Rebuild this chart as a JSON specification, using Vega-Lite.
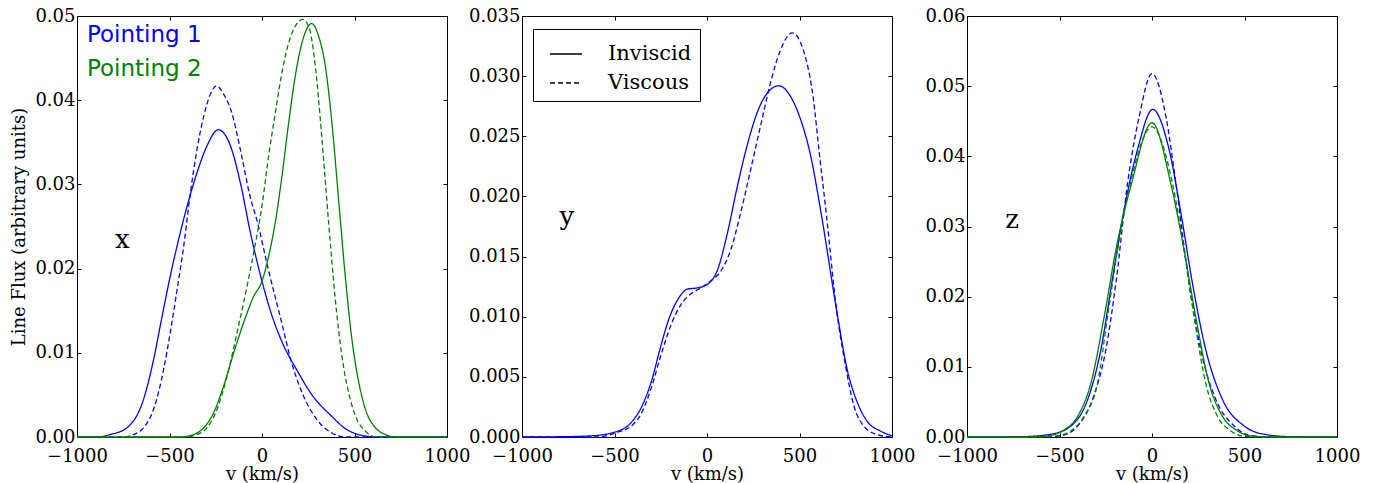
{
  "$schema": "https://vega.github.io/schema/vega-lite/v6.json",
  "padding": {"left": 10, "top": 6, "right": 0, "bottom": 0},
  "background": "white",
  "spacing": 75,
  "bounds": "flush",
  "datasets": {
    "curves": [
      {"panel":"x","pointing":"Pointing 1","model":"Inviscid","v":-1000,"flux":0},
      {"panel":"x","pointing":"Pointing 1","model":"Inviscid","v":-892,"flux":0},
      {"panel":"x","pointing":"Pointing 1","model":"Inviscid","v":-820,"flux":0.0003},
      {"panel":"x","pointing":"Pointing 1","model":"Inviscid","v":-730,"flux":0.0011},
      {"panel":"x","pointing":"Pointing 1","model":"Inviscid","v":-640,"flux":0.0045},
      {"panel":"x","pointing":"Pointing 1","model":"Inviscid","v":-586,"flux":0.0092},
      {"panel":"x","pointing":"Pointing 1","model":"Inviscid","v":-550,"flux":0.0132},
      {"panel":"x","pointing":"Pointing 1","model":"Inviscid","v":-496,"flux":0.0191},
      {"panel":"x","pointing":"Pointing 1","model":"Inviscid","v":-459,"flux":0.0227},
      {"panel":"x","pointing":"Pointing 1","model":"Inviscid","v":-405,"flux":0.0274},
      {"panel":"x","pointing":"Pointing 1","model":"Inviscid","v":-351,"flux":0.0314},
      {"panel":"x","pointing":"Pointing 1","model":"Inviscid","v":-297,"flux":0.0346},
      {"panel":"x","pointing":"Pointing 1","model":"Inviscid","v":-236,"flux":0.0365},
      {"panel":"x","pointing":"Pointing 1","model":"Inviscid","v":-171,"flux":0.0346},
      {"panel":"x","pointing":"Pointing 1","model":"Inviscid","v":-117,"flux":0.0302},
      {"panel":"x","pointing":"Pointing 1","model":"Inviscid","v":-63,"flux":0.0243},
      {"panel":"x","pointing":"Pointing 1","model":"Inviscid","v":0,"flux":0.0185},
      {"panel":"x","pointing":"Pointing 1","model":"Inviscid","v":54,"flux":0.0144},
      {"panel":"x","pointing":"Pointing 1","model":"Inviscid","v":104,"flux":0.0115},
      {"panel":"x","pointing":"Pointing 1","model":"Inviscid","v":195,"flux":0.0077},
      {"panel":"x","pointing":"Pointing 1","model":"Inviscid","v":270,"flux":0.0050},
      {"panel":"x","pointing":"Pointing 1","model":"Inviscid","v":375,"flux":0.0025},
      {"panel":"x","pointing":"Pointing 1","model":"Inviscid","v":450,"flux":0.0010},
      {"panel":"x","pointing":"Pointing 1","model":"Inviscid","v":540,"flux":0.0002},
      {"panel":"x","pointing":"Pointing 1","model":"Inviscid","v":630,"flux":0},
      {"panel":"x","pointing":"Pointing 1","model":"Inviscid","v":1000,"flux":0},

      {"panel":"x","pointing":"Pointing 1","model":"Viscous","v":-1000,"flux":0},
      {"panel":"x","pointing":"Pointing 1","model":"Viscous","v":-748,"flux":0},
      {"panel":"x","pointing":"Pointing 1","model":"Viscous","v":-694,"flux":0.0003},
      {"panel":"x","pointing":"Pointing 1","model":"Viscous","v":-640,"flux":0.0011},
      {"panel":"x","pointing":"Pointing 1","model":"Viscous","v":-586,"flux":0.0033},
      {"panel":"x","pointing":"Pointing 1","model":"Viscous","v":-532,"flux":0.0080},
      {"panel":"x","pointing":"Pointing 1","model":"Viscous","v":-496,"flux":0.0124},
      {"panel":"x","pointing":"Pointing 1","model":"Viscous","v":-459,"flux":0.0175},
      {"panel":"x","pointing":"Pointing 1","model":"Viscous","v":-423,"flux":0.0227},
      {"panel":"x","pointing":"Pointing 1","model":"Viscous","v":-387,"flux":0.0290},
      {"panel":"x","pointing":"Pointing 1","model":"Viscous","v":-351,"flux":0.0342},
      {"panel":"x","pointing":"Pointing 1","model":"Viscous","v":-315,"flux":0.0381},
      {"panel":"x","pointing":"Pointing 1","model":"Viscous","v":-279,"flux":0.0407},
      {"panel":"x","pointing":"Pointing 1","model":"Viscous","v":-245,"flux":0.0417},
      {"panel":"x","pointing":"Pointing 1","model":"Viscous","v":-207,"flux":0.0407},
      {"panel":"x","pointing":"Pointing 1","model":"Viscous","v":-166,"flux":0.0387},
      {"panel":"x","pointing":"Pointing 1","model":"Viscous","v":-112,"flux":0.0336},
      {"panel":"x","pointing":"Pointing 1","model":"Viscous","v":-67,"flux":0.0288},
      {"panel":"x","pointing":"Pointing 1","model":"Viscous","v":-22,"flux":0.0253},
      {"panel":"x","pointing":"Pointing 1","model":"Viscous","v":32,"flux":0.0201},
      {"panel":"x","pointing":"Pointing 1","model":"Viscous","v":104,"flux":0.0138},
      {"panel":"x","pointing":"Pointing 1","model":"Viscous","v":158,"flux":0.0090},
      {"panel":"x","pointing":"Pointing 1","model":"Viscous","v":212,"flux":0.0055},
      {"panel":"x","pointing":"Pointing 1","model":"Viscous","v":303,"flux":0.0019},
      {"panel":"x","pointing":"Pointing 1","model":"Viscous","v":375,"flux":0.0005},
      {"panel":"x","pointing":"Pointing 1","model":"Viscous","v":450,"flux":0},
      {"panel":"x","pointing":"Pointing 1","model":"Viscous","v":1000,"flux":0},

      {"panel":"x","pointing":"Pointing 2","model":"Inviscid","v":-1000,"flux":0},
      {"panel":"x","pointing":"Pointing 2","model":"Inviscid","v":-440,"flux":0},
      {"panel":"x","pointing":"Pointing 2","model":"Inviscid","v":-369,"flux":0.0003},
      {"panel":"x","pointing":"Pointing 2","model":"Inviscid","v":-315,"flux":0.0011},
      {"panel":"x","pointing":"Pointing 2","model":"Inviscid","v":-261,"flux":0.0029},
      {"panel":"x","pointing":"Pointing 2","model":"Inviscid","v":-207,"flux":0.0061},
      {"panel":"x","pointing":"Pointing 2","model":"Inviscid","v":-153,"flux":0.0100},
      {"panel":"x","pointing":"Pointing 2","model":"Inviscid","v":-99,"flux":0.0136},
      {"panel":"x","pointing":"Pointing 2","model":"Inviscid","v":-45,"flux":0.0167},
      {"panel":"x","pointing":"Pointing 2","model":"Inviscid","v":0,"flux":0.0185},
      {"panel":"x","pointing":"Pointing 2","model":"Inviscid","v":36,"flux":0.0215},
      {"panel":"x","pointing":"Pointing 2","model":"Inviscid","v":72,"flux":0.0255},
      {"panel":"x","pointing":"Pointing 2","model":"Inviscid","v":108,"flux":0.0310},
      {"panel":"x","pointing":"Pointing 2","model":"Inviscid","v":144,"flux":0.0373},
      {"panel":"x","pointing":"Pointing 2","model":"Inviscid","v":180,"flux":0.0429},
      {"panel":"x","pointing":"Pointing 2","model":"Inviscid","v":216,"flux":0.0468},
      {"panel":"x","pointing":"Pointing 2","model":"Inviscid","v":268,"flux":0.0491},
      {"panel":"x","pointing":"Pointing 2","model":"Inviscid","v":306,"flux":0.0476},
      {"panel":"x","pointing":"Pointing 2","model":"Inviscid","v":342,"flux":0.0441},
      {"panel":"x","pointing":"Pointing 2","model":"Inviscid","v":378,"flux":0.0373},
      {"panel":"x","pointing":"Pointing 2","model":"Inviscid","v":414,"flux":0.0282},
      {"panel":"x","pointing":"Pointing 2","model":"Inviscid","v":450,"flux":0.0191},
      {"panel":"x","pointing":"Pointing 2","model":"Inviscid","v":486,"flux":0.0116},
      {"panel":"x","pointing":"Pointing 2","model":"Inviscid","v":523,"flux":0.0065},
      {"panel":"x","pointing":"Pointing 2","model":"Inviscid","v":559,"flux":0.0033},
      {"panel":"x","pointing":"Pointing 2","model":"Inviscid","v":613,"flux":0.0011},
      {"panel":"x","pointing":"Pointing 2","model":"Inviscid","v":667,"flux":0.0003},
      {"panel":"x","pointing":"Pointing 2","model":"Inviscid","v":720,"flux":0},
      {"panel":"x","pointing":"Pointing 2","model":"Inviscid","v":1000,"flux":0},

      {"panel":"x","pointing":"Pointing 2","model":"Viscous","v":-1000,"flux":0},
      {"panel":"x","pointing":"Pointing 2","model":"Viscous","v":-420,"flux":0},
      {"panel":"x","pointing":"Pointing 2","model":"Viscous","v":-351,"flux":0.0003},
      {"panel":"x","pointing":"Pointing 2","model":"Viscous","v":-297,"flux":0.0011},
      {"panel":"x","pointing":"Pointing 2","model":"Viscous","v":-243,"flux":0.0033},
      {"panel":"x","pointing":"Pointing 2","model":"Viscous","v":-189,"flux":0.0072},
      {"panel":"x","pointing":"Pointing 2","model":"Viscous","v":-135,"flux":0.0124},
      {"panel":"x","pointing":"Pointing 2","model":"Viscous","v":-81,"flux":0.0179},
      {"panel":"x","pointing":"Pointing 2","model":"Viscous","v":-45,"flux":0.0219},
      {"panel":"x","pointing":"Pointing 2","model":"Viscous","v":0,"flux":0.0275},
      {"panel":"x","pointing":"Pointing 2","model":"Viscous","v":36,"flux":0.0334},
      {"panel":"x","pointing":"Pointing 2","model":"Viscous","v":72,"flux":0.0385},
      {"panel":"x","pointing":"Pointing 2","model":"Viscous","v":108,"flux":0.0433},
      {"panel":"x","pointing":"Pointing 2","model":"Viscous","v":144,"flux":0.0468},
      {"panel":"x","pointing":"Pointing 2","model":"Viscous","v":180,"flux":0.0488},
      {"panel":"x","pointing":"Pointing 2","model":"Viscous","v":218,"flux":0.0496},
      {"panel":"x","pointing":"Pointing 2","model":"Viscous","v":252,"flux":0.0488},
      {"panel":"x","pointing":"Pointing 2","model":"Viscous","v":288,"flux":0.0441},
      {"panel":"x","pointing":"Pointing 2","model":"Viscous","v":324,"flux":0.0354},
      {"panel":"x","pointing":"Pointing 2","model":"Viscous","v":360,"flux":0.0255},
      {"panel":"x","pointing":"Pointing 2","model":"Viscous","v":396,"flux":0.0164},
      {"panel":"x","pointing":"Pointing 2","model":"Viscous","v":432,"flux":0.0096},
      {"panel":"x","pointing":"Pointing 2","model":"Viscous","v":468,"flux":0.0053},
      {"panel":"x","pointing":"Pointing 2","model":"Viscous","v":505,"flux":0.0025},
      {"panel":"x","pointing":"Pointing 2","model":"Viscous","v":559,"flux":0.0007},
      {"panel":"x","pointing":"Pointing 2","model":"Viscous","v":620,"flux":0},
      {"panel":"x","pointing":"Pointing 2","model":"Viscous","v":1000,"flux":0},

      {"panel":"y","pointing":"Pointing 1","model":"Inviscid","v":-1000,"flux":0},
      {"panel":"y","pointing":"Pointing 1","model":"Inviscid","v":-800,"flux":0.00002},
      {"panel":"y","pointing":"Pointing 1","model":"Inviscid","v":-626,"flux":0.0001},
      {"panel":"y","pointing":"Pointing 1","model":"Inviscid","v":-500,"flux":0.0004},
      {"panel":"y","pointing":"Pointing 1","model":"Inviscid","v":-410,"flux":0.0012},
      {"panel":"y","pointing":"Pointing 1","model":"Inviscid","v":-357,"flux":0.0024},
      {"panel":"y","pointing":"Pointing 1","model":"Inviscid","v":-303,"flux":0.0045},
      {"panel":"y","pointing":"Pointing 1","model":"Inviscid","v":-249,"flux":0.0076},
      {"panel":"y","pointing":"Pointing 1","model":"Inviscid","v":-213,"flux":0.0095},
      {"panel":"y","pointing":"Pointing 1","model":"Inviscid","v":-159,"flux":0.0114},
      {"panel":"y","pointing":"Pointing 1","model":"Inviscid","v":-105,"flux":0.0123},
      {"panel":"y","pointing":"Pointing 1","model":"Inviscid","v":-51,"flux":0.0124},
      {"panel":"y","pointing":"Pointing 1","model":"Inviscid","v":3,"flux":0.0127},
      {"panel":"y","pointing":"Pointing 1","model":"Inviscid","v":57,"flux":0.0139},
      {"panel":"y","pointing":"Pointing 1","model":"Inviscid","v":111,"flux":0.0170},
      {"panel":"y","pointing":"Pointing 1","model":"Inviscid","v":165,"flux":0.0209},
      {"panel":"y","pointing":"Pointing 1","model":"Inviscid","v":218,"flux":0.0243},
      {"panel":"y","pointing":"Pointing 1","model":"Inviscid","v":272,"flux":0.0270},
      {"panel":"y","pointing":"Pointing 1","model":"Inviscid","v":326,"flux":0.0286},
      {"panel":"y","pointing":"Pointing 1","model":"Inviscid","v":389,"flux":0.0292},
      {"panel":"y","pointing":"Pointing 1","model":"Inviscid","v":452,"flux":0.0283},
      {"panel":"y","pointing":"Pointing 1","model":"Inviscid","v":506,"flux":0.0264},
      {"panel":"y","pointing":"Pointing 1","model":"Inviscid","v":560,"flux":0.0234},
      {"panel":"y","pointing":"Pointing 1","model":"Inviscid","v":619,"flux":0.0184},
      {"panel":"y","pointing":"Pointing 1","model":"Inviscid","v":700,"flux":0.0106},
      {"panel":"y","pointing":"Pointing 1","model":"Inviscid","v":758,"flux":0.0056},
      {"panel":"y","pointing":"Pointing 1","model":"Inviscid","v":812,"flux":0.0029},
      {"panel":"y","pointing":"Pointing 1","model":"Inviscid","v":866,"flux":0.0013},
      {"panel":"y","pointing":"Pointing 1","model":"Inviscid","v":937,"flux":0.0005},
      {"panel":"y","pointing":"Pointing 1","model":"Inviscid","v":1000,"flux":0.0001},

      {"panel":"y","pointing":"Pointing 1","model":"Viscous","v":-1000,"flux":0},
      {"panel":"y","pointing":"Pointing 1","model":"Viscous","v":-600,"flux":0},
      {"panel":"y","pointing":"Pointing 1","model":"Viscous","v":-482,"flux":0.0004},
      {"panel":"y","pointing":"Pointing 1","model":"Viscous","v":-410,"flux":0.0009},
      {"panel":"y","pointing":"Pointing 1","model":"Viscous","v":-357,"flux":0.0019},
      {"panel":"y","pointing":"Pointing 1","model":"Viscous","v":-303,"flux":0.0040},
      {"panel":"y","pointing":"Pointing 1","model":"Viscous","v":-249,"flux":0.0068},
      {"panel":"y","pointing":"Pointing 1","model":"Viscous","v":-195,"flux":0.0093},
      {"panel":"y","pointing":"Pointing 1","model":"Viscous","v":-141,"flux":0.0110},
      {"panel":"y","pointing":"Pointing 1","model":"Viscous","v":-87,"flux":0.0119},
      {"panel":"y","pointing":"Pointing 1","model":"Viscous","v":-33,"flux":0.0124},
      {"panel":"y","pointing":"Pointing 1","model":"Viscous","v":21,"flux":0.0130},
      {"panel":"y","pointing":"Pointing 1","model":"Viscous","v":75,"flux":0.0138},
      {"panel":"y","pointing":"Pointing 1","model":"Viscous","v":129,"flux":0.0156},
      {"panel":"y","pointing":"Pointing 1","model":"Viscous","v":183,"flux":0.0187},
      {"panel":"y","pointing":"Pointing 1","model":"Viscous","v":237,"flux":0.0223},
      {"panel":"y","pointing":"Pointing 1","model":"Viscous","v":290,"flux":0.0259},
      {"panel":"y","pointing":"Pointing 1","model":"Viscous","v":344,"flux":0.0295},
      {"panel":"y","pointing":"Pointing 1","model":"Viscous","v":398,"flux":0.0322},
      {"panel":"y","pointing":"Pointing 1","model":"Viscous","v":461,"flux":0.0336},
      {"panel":"y","pointing":"Pointing 1","model":"Viscous","v":524,"flux":0.0320},
      {"panel":"y","pointing":"Pointing 1","model":"Viscous","v":575,"flux":0.0281},
      {"panel":"y","pointing":"Pointing 1","model":"Viscous","v":605,"flux":0.0239},
      {"panel":"y","pointing":"Pointing 1","model":"Viscous","v":646,"flux":0.0184},
      {"panel":"y","pointing":"Pointing 1","model":"Viscous","v":700,"flux":0.0106},
      {"panel":"y","pointing":"Pointing 1","model":"Viscous","v":749,"flux":0.0059},
      {"panel":"y","pointing":"Pointing 1","model":"Viscous","v":794,"flux":0.0026},
      {"panel":"y","pointing":"Pointing 1","model":"Viscous","v":848,"flux":0.0009},
      {"panel":"y","pointing":"Pointing 1","model":"Viscous","v":920,"flux":0.0002},
      {"panel":"y","pointing":"Pointing 1","model":"Viscous","v":1000,"flux":0},

      {"panel":"z","pointing":"Pointing 1","model":"Inviscid","v":-1000,"flux":0},
      {"panel":"z","pointing":"Pointing 1","model":"Inviscid","v":-700,"flux":0.00005},
      {"panel":"z","pointing":"Pointing 1","model":"Inviscid","v":-545,"flux":0.0004},
      {"panel":"z","pointing":"Pointing 1","model":"Inviscid","v":-437,"flux":0.0016},
      {"panel":"z","pointing":"Pointing 1","model":"Inviscid","v":-347,"flux":0.0054},
      {"panel":"z","pointing":"Pointing 1","model":"Inviscid","v":-276,"flux":0.0125},
      {"panel":"z","pointing":"Pointing 1","model":"Inviscid","v":-217,"flux":0.0220},
      {"panel":"z","pointing":"Pointing 1","model":"Inviscid","v":-157,"flux":0.0315},
      {"panel":"z","pointing":"Pointing 1","model":"Inviscid","v":-78,"flux":0.0410},
      {"panel":"z","pointing":"Pointing 1","model":"Inviscid","v":4,"flux":0.0467},
      {"panel":"z","pointing":"Pointing 1","model":"Inviscid","v":92,"flux":0.0410},
      {"panel":"z","pointing":"Pointing 1","model":"Inviscid","v":159,"flux":0.0315},
      {"panel":"z","pointing":"Pointing 1","model":"Inviscid","v":218,"flux":0.0220},
      {"panel":"z","pointing":"Pointing 1","model":"Inviscid","v":290,"flux":0.0125},
      {"panel":"z","pointing":"Pointing 1","model":"Inviscid","v":380,"flux":0.0054},
      {"panel":"z","pointing":"Pointing 1","model":"Inviscid","v":497,"flux":0.0016},
      {"panel":"z","pointing":"Pointing 1","model":"Inviscid","v":605,"flux":0.0004},
      {"panel":"z","pointing":"Pointing 1","model":"Inviscid","v":750,"flux":0.00005},
      {"panel":"z","pointing":"Pointing 1","model":"Inviscid","v":1000,"flux":0},

      {"panel":"z","pointing":"Pointing 1","model":"Viscous","v":-1000,"flux":0},
      {"panel":"z","pointing":"Pointing 1","model":"Viscous","v":-600,"flux":0},
      {"panel":"z","pointing":"Pointing 1","model":"Viscous","v":-491,"flux":0.0002},
      {"panel":"z","pointing":"Pointing 1","model":"Viscous","v":-401,"flux":0.0016},
      {"panel":"z","pointing":"Pointing 1","model":"Viscous","v":-321,"flux":0.0054},
      {"panel":"z","pointing":"Pointing 1","model":"Viscous","v":-249,"flux":0.0125},
      {"panel":"z","pointing":"Pointing 1","model":"Viscous","v":-195,"flux":0.0220},
      {"panel":"z","pointing":"Pointing 1","model":"Viscous","v":-132,"flux":0.0362},
      {"panel":"z","pointing":"Pointing 1","model":"Viscous","v":-69,"flux":0.0457},
      {"panel":"z","pointing":"Pointing 1","model":"Viscous","v":0,"flux":0.0518},
      {"panel":"z","pointing":"Pointing 1","model":"Viscous","v":75,"flux":0.0457},
      {"panel":"z","pointing":"Pointing 1","model":"Viscous","v":129,"flux":0.0362},
      {"panel":"z","pointing":"Pointing 1","model":"Viscous","v":200,"flux":0.0220},
      {"panel":"z","pointing":"Pointing 1","model":"Viscous","v":263,"flux":0.0125},
      {"panel":"z","pointing":"Pointing 1","model":"Viscous","v":344,"flux":0.0054},
      {"panel":"z","pointing":"Pointing 1","model":"Viscous","v":443,"flux":0.0016},
      {"panel":"z","pointing":"Pointing 1","model":"Viscous","v":533,"flux":0.0002},
      {"panel":"z","pointing":"Pointing 1","model":"Viscous","v":650,"flux":0},
      {"panel":"z","pointing":"Pointing 1","model":"Viscous","v":1000,"flux":0},

      {"panel":"z","pointing":"Pointing 2","model":"Inviscid","v":-1000,"flux":0},
      {"panel":"z","pointing":"Pointing 2","model":"Inviscid","v":-700,"flux":0},
      {"panel":"z","pointing":"Pointing 2","model":"Inviscid","v":-581,"flux":0.0001},
      {"panel":"z","pointing":"Pointing 2","model":"Inviscid","v":-482,"flux":0.0009},
      {"panel":"z","pointing":"Pointing 2","model":"Inviscid","v":-401,"flux":0.0030},
      {"panel":"z","pointing":"Pointing 2","model":"Inviscid","v":-330,"flux":0.0077},
      {"panel":"z","pointing":"Pointing 2","model":"Inviscid","v":-258,"flux":0.0172},
      {"panel":"z","pointing":"Pointing 2","model":"Inviscid","v":-195,"flux":0.0267},
      {"panel":"z","pointing":"Pointing 2","model":"Inviscid","v":-110,"flux":0.0362},
      {"panel":"z","pointing":"Pointing 2","model":"Inviscid","v":0,"flux":0.0448},
      {"panel":"z","pointing":"Pointing 2","model":"Inviscid","v":101,"flux":0.0362},
      {"panel":"z","pointing":"Pointing 2","model":"Inviscid","v":173,"flux":0.0267},
      {"panel":"z","pointing":"Pointing 2","model":"Inviscid","v":236,"flux":0.0172},
      {"panel":"z","pointing":"Pointing 2","model":"Inviscid","v":308,"flux":0.0077},
      {"panel":"z","pointing":"Pointing 2","model":"Inviscid","v":380,"flux":0.0030},
      {"panel":"z","pointing":"Pointing 2","model":"Inviscid","v":461,"flux":0.0009},
      {"panel":"z","pointing":"Pointing 2","model":"Inviscid","v":551,"flux":0.0001},
      {"panel":"z","pointing":"Pointing 2","model":"Inviscid","v":700,"flux":0},
      {"panel":"z","pointing":"Pointing 2","model":"Inviscid","v":1000,"flux":0},

      {"panel":"z","pointing":"Pointing 2","model":"Viscous","v":-1000,"flux":0},
      {"panel":"z","pointing":"Pointing 2","model":"Viscous","v":-650,"flux":0},
      {"panel":"z","pointing":"Pointing 2","model":"Viscous","v":-527,"flux":0.0001},
      {"panel":"z","pointing":"Pointing 2","model":"Viscous","v":-437,"flux":0.0009},
      {"panel":"z","pointing":"Pointing 2","model":"Viscous","v":-366,"flux":0.0030},
      {"panel":"z","pointing":"Pointing 2","model":"Viscous","v":-294,"flux":0.0077},
      {"panel":"z","pointing":"Pointing 2","model":"Viscous","v":-240,"flux":0.0172},
      {"panel":"z","pointing":"Pointing 2","model":"Viscous","v":-186,"flux":0.0267},
      {"panel":"z","pointing":"Pointing 2","model":"Viscous","v":-117,"flux":0.0362},
      {"panel":"z","pointing":"Pointing 2","model":"Viscous","v":0,"flux":0.0442},
      {"panel":"z","pointing":"Pointing 2","model":"Viscous","v":110,"flux":0.0362},
      {"panel":"z","pointing":"Pointing 2","model":"Viscous","v":173,"flux":0.0267},
      {"panel":"z","pointing":"Pointing 2","model":"Viscous","v":227,"flux":0.0172},
      {"panel":"z","pointing":"Pointing 2","model":"Viscous","v":290,"flux":0.0077},
      {"panel":"z","pointing":"Pointing 2","model":"Viscous","v":353,"flux":0.0030},
      {"panel":"z","pointing":"Pointing 2","model":"Viscous","v":425,"flux":0.0009},
      {"panel":"z","pointing":"Pointing 2","model":"Viscous","v":497,"flux":0.0001},
      {"panel":"z","pointing":"Pointing 2","model":"Viscous","v":600,"flux":0},
      {"panel":"z","pointing":"Pointing 2","model":"Viscous","v":1000,"flux":0}
    ],
    "labels": [
      {"panel":"x","kind":"pointing","pointing":"Pointing 1","text":"Pointing 1","v":-946,"flux":0.0469},
      {"panel":"x","kind":"pointing","pointing":"Pointing 2","text":"Pointing 2","v":-946,"flux":0.0429},
      {"panel":"x","kind":"axis","pointing":"","text":"x","v":-795,"flux":0.02245},
      {"panel":"y","kind":"axis","pointing":"","text":"y","v":-797,"flux":0.01763},
      {"panel":"z","kind":"axis","pointing":"","text":"z","v":-793,"flux":0.02983}
    ]
  },
  "hconcat": [
    {
      "width": 370, "height": 421,
      "layer": [
        {
          "data": {"name": "curves"},
          "transform": [{"filter": "datum.panel === 'x'"}],
          "mark": {"type": "line", "strokeWidth": 1.3, "interpolate": "monotone"},
          "encoding": {
            "x": {"field": "v", "type": "quantitative", "scale": {"domain": [-1000, 1000], "nice": false, "zero": false},
                  "axis": {"orient": "bottom", "values": [-1000, -500, 0, 500, 1000], "format": "d", "title": "v (km/s)"}},
            "y": {"field": "flux", "type": "quantitative", "scale": {"domain": [0, 0.05], "nice": false},
                  "axis": {"orient": "left", "values": [0, 0.01, 0.02, 0.03, 0.04, 0.05], "format": ".2f", "title": "Line Flux (arbitrary units)"}},
            "color": {"field": "pointing", "type": "nominal", "scale": {"domain": ["Pointing 1", "Pointing 2"], "range": ["#0000ff", "#008000"]}, "legend": null},
            "strokeDash": {"field": "model", "type": "nominal", "scale": {"domain": ["Inviscid", "Viscous"], "range": [[1, 0], [5, 3]]}, "legend": null}
          }
        },
        {
          "data": {"name": "curves"},
          "transform": [{"filter": "datum.panel === 'x'"}],
          "mark": {"type": "line", "strokeOpacity": 0},
          "encoding": {
            "x": {"field": "v", "type": "quantitative", "axis": {"orient": "top", "values": [-1000, -500, 0, 500, 1000], "labels": false, "title": null}},
            "y": {"field": "flux", "type": "quantitative", "axis": {"orient": "right", "values": [0, 0.01, 0.02, 0.03, 0.04, 0.05], "labels": false, "title": null}}
          }
        },
        {
          "data": {"name": "labels"},
          "transform": [{"filter": "datum.panel === 'x' && datum.kind === 'pointing'"}],
          "mark": {"type": "text", "align": "left", "baseline": "alphabetic", "font": "DejaVu Sans", "fontSize": 23},
          "encoding": {
            "x": {"field": "v", "type": "quantitative", "axis": null},
            "y": {"field": "flux", "type": "quantitative", "axis": null},
            "text": {"field": "text"},
            "color": {"field": "pointing", "type": "nominal", "legend": null}
          }
        },
        {
          "data": {"name": "labels"},
          "transform": [{"filter": "datum.panel === 'x' && datum.kind === 'axis'"}],
          "mark": {"type": "text", "align": "left", "baseline": "alphabetic", "font": "DejaVu Serif", "fontSize": 26, "color": "black"},
          "encoding": {
            "x": {"field": "v", "type": "quantitative", "axis": null},
            "y": {"field": "flux", "type": "quantitative", "axis": null},
            "text": {"field": "text"}
          }
        }
      ]
    },
    {
      "width": 370, "height": 421,
      "layer": [
        {
          "data": {"name": "curves"},
          "transform": [{"filter": "datum.panel === 'y'"}],
          "mark": {"type": "line", "strokeWidth": 1.3, "interpolate": "monotone"},
          "encoding": {
            "x": {"field": "v", "type": "quantitative", "scale": {"domain": [-1000, 1000], "nice": false, "zero": false},
                  "axis": {"orient": "bottom", "values": [-1000, -500, 0, 500, 1000], "format": "d", "title": "v (km/s)"}},
            "y": {"field": "flux", "type": "quantitative", "scale": {"domain": [0, 0.035], "nice": false},
                  "axis": {"orient": "left", "values": [0, 0.005, 0.01, 0.015, 0.02, 0.025, 0.03, 0.035], "format": ".3f", "title": null}},
            "color": {"field": "pointing", "type": "nominal", "scale": {"domain": ["Pointing 1", "Pointing 2"], "range": ["#0000ff", "#008000"]}, "legend": null},
            "strokeDash": {"field": "model", "type": "nominal", "scale": {"domain": ["Inviscid", "Viscous"], "range": [[1, 0], [5, 3]]},
              "legend": {"orient": "none", "legendX": 11, "legendY": 13, "title": null, "strokeColor": "black", "fillColor": "white",
                         "padding": 8, "symbolType": "stroke", "symbolSize": 1024, "symbolStrokeColor": "black", "symbolStrokeWidth": 1.3,
                         "symbolOffset": 8, "labelFont": "DejaVu Serif", "labelFontSize": 21, "labelColor": "black", "labelOffset": 25,
                         "rowPadding": 2, "cornerRadius": 0}}
          }
        },
        {
          "data": {"name": "curves"},
          "transform": [{"filter": "datum.panel === 'y'"}],
          "mark": {"type": "line", "strokeOpacity": 0},
          "encoding": {
            "x": {"field": "v", "type": "quantitative", "axis": {"orient": "top", "values": [-1000, -500, 0, 500, 1000], "labels": false, "title": null}},
            "y": {"field": "flux", "type": "quantitative", "axis": {"orient": "right", "values": [0, 0.005, 0.01, 0.015, 0.02, 0.025, 0.03, 0.035], "labels": false, "title": null}}
          }
        },
        {
          "data": {"name": "labels"},
          "transform": [{"filter": "datum.panel === 'y' && datum.kind === 'axis'"}],
          "mark": {"type": "text", "align": "left", "baseline": "alphabetic", "font": "DejaVu Serif", "fontSize": 26, "color": "black"},
          "encoding": {
            "x": {"field": "v", "type": "quantitative", "axis": null},
            "y": {"field": "flux", "type": "quantitative", "axis": null},
            "text": {"field": "text"}
          }
        }
      ]
    },
    {
      "width": 370, "height": 421,
      "layer": [
        {
          "data": {"name": "curves"},
          "transform": [{"filter": "datum.panel === 'z'"}],
          "mark": {"type": "line", "strokeWidth": 1.3, "interpolate": "monotone"},
          "encoding": {
            "x": {"field": "v", "type": "quantitative", "scale": {"domain": [-1000, 1000], "nice": false, "zero": false},
                  "axis": {"orient": "bottom", "values": [-1000, -500, 0, 500, 1000], "format": "d", "title": "v (km/s)"}},
            "y": {"field": "flux", "type": "quantitative", "scale": {"domain": [0, 0.06], "nice": false},
                  "axis": {"orient": "left", "values": [0, 0.01, 0.02, 0.03, 0.04, 0.05, 0.06], "format": ".2f", "title": null}},
            "color": {"field": "pointing", "type": "nominal", "scale": {"domain": ["Pointing 1", "Pointing 2"], "range": ["#0000ff", "#008000"]}, "legend": null},
            "strokeDash": {"field": "model", "type": "nominal", "scale": {"domain": ["Inviscid", "Viscous"], "range": [[1, 0], [5, 3]]}, "legend": null}
          }
        },
        {
          "data": {"name": "curves"},
          "transform": [{"filter": "datum.panel === 'z'"}],
          "mark": {"type": "line", "strokeOpacity": 0},
          "encoding": {
            "x": {"field": "v", "type": "quantitative", "axis": {"orient": "top", "values": [-1000, -500, 0, 500, 1000], "labels": false, "title": null}},
            "y": {"field": "flux", "type": "quantitative", "axis": {"orient": "right", "values": [0, 0.01, 0.02, 0.03, 0.04, 0.05, 0.06], "labels": false, "title": null}}
          }
        },
        {
          "data": {"name": "labels"},
          "transform": [{"filter": "datum.panel === 'z' && datum.kind === 'axis'"}],
          "mark": {"type": "text", "align": "left", "baseline": "alphabetic", "font": "DejaVu Serif", "fontSize": 26, "color": "black"},
          "encoding": {
            "x": {"field": "v", "type": "quantitative", "axis": null},
            "y": {"field": "flux", "type": "quantitative", "axis": null},
            "text": {"field": "text"}
          }
        }
      ]
    }
  ],
  "resolve": {
    "scale": {"x": "independent", "y": "independent", "strokeDash": "independent"},
    "legend": {"strokeDash": "independent"}
  },
  "config": {
    "font": "DejaVu Serif",
    "view": {"stroke": "black", "strokeWidth": 1},
    "axis": {
      "domain": false, "grid": false,
      "tickColor": "black", "tickSize": -4, "tickWidth": 1,
      "labelFont": "DejaVu Serif", "labelFontSize": 18, "labelColor": "black",
      "labelFlush": false, "labelOverlap": false, "labelBound": false,
      "titleFont": "DejaVu Serif", "titleFontSize": 18, "titleFontWeight": "normal", "titleColor": "black"
    },
    "axisX": {"labelPadding": 14, "titlePadding": 0},
    "axisY": {"labelPadding": 6, "titlePadding": 6}
  }
}
